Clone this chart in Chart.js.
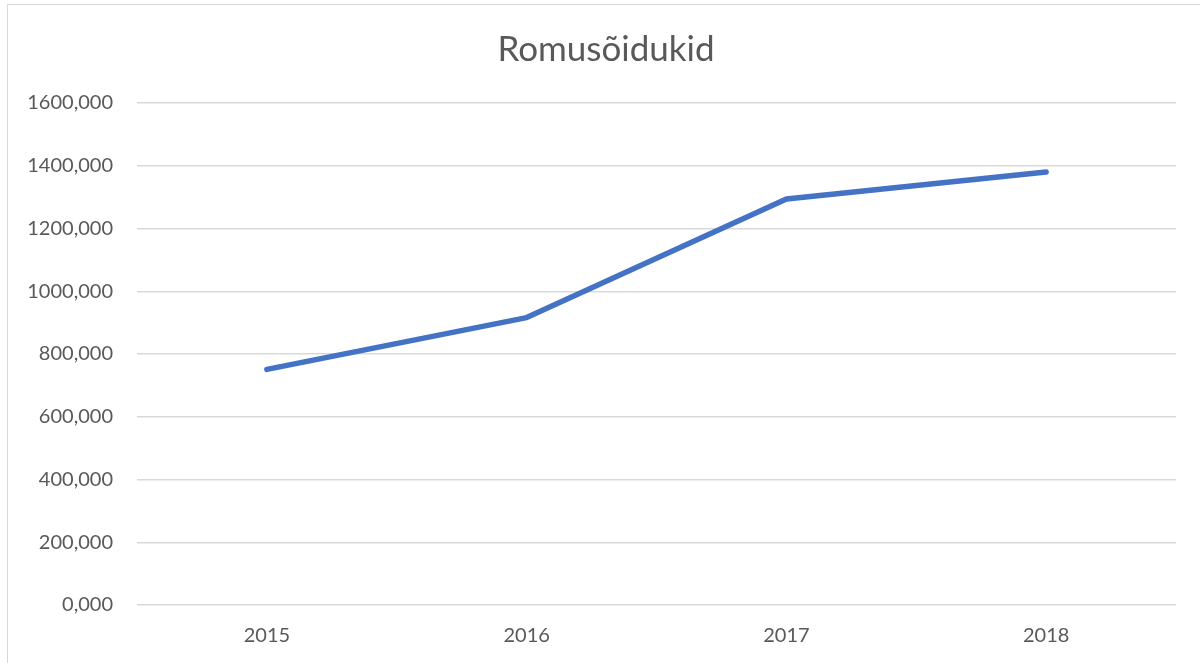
<!DOCTYPE html>
<html lang="et">
<head>
    <meta charset="UTF-8">
    <title>Romusõidukid</title>
    <script src="https://cdn.jsdelivr.net/npm/chart.js"></script>
    <style>
        html, body {
            margin: 0;
            padding: 0;
            background: #ffffff;
            overflow: hidden;
        }
        .frame {
            position: absolute;
            left: 7px;
            top: 4px;
            width: 1300px;
            height: 800px;
            border: 1.5px solid #d9d9d9;
        }
        .chart-box {
            position: absolute;
            left: 0;
            top: 0;
            width: 1200px;
            height: 663px;
        }
    </style>
</head>
<body>
    <div class="frame"></div>
    <div class="chart-box">
        <canvas id="lineChart"></canvas>
    </div>

    <script>
        const years = ['2015', '2016', '2017', '2018'];
        const vehicles = [751, 916, 1294, 1380];
        const yMin = 0;
        const yMax = 1600;
        const yStep = 200;

        const textColor = '#595959';
        const gridColor = '#d9d9d9';
        const fontFamily = "Lato, 'Open Sans', sans-serif";

        new Chart(document.getElementById('lineChart'), {
            type: 'line',
            data: {
                labels: years,
                datasets: [{
                    label: 'Romusõidukid',
                    data: vehicles,
                    borderColor: '#4472c4',
                    borderWidth: 5.5,
                    borderCapStyle: 'round',
                    borderJoinStyle: 'round',
                    pointRadius: 0,
                    tension: 0,
                    fill: false
                }]
            },
            options: {
                responsive: true,
                maintainAspectRatio: false,
                animation: false,
                layout: {
                    padding: { left: 12, right: 0, top: 0, bottom: 0 }
                },
                plugins: {
                    legend: { display: false },
                    tooltip: { enabled: false },
                    title: {
                        display: true,
                        text: 'Romusõidukid',
                        color: textColor,
                        font: { family: fontFamily, size: 35, weight: 'normal' },
                        padding: { top: 29, bottom: 32 }
                    }
                },
                scales: {
                    x: {
                        offset: true,
                        grid: { display: false, drawTicks: false },
                        border: { display: false },
                        ticks: {
                            color: textColor,
                            font: { family: fontFamily, size: 20 },
                            padding: 19
                        },
                        afterFit: s => { s.height = 58; }
                    },
                    y: {
                        min: yMin,
                        max: yMax,
                        grid: { color: gridColor, lineWidth: 1.5, drawTicks: false },
                        border: { display: false },
                        ticks: {
                            stepSize: yStep,
                            color: textColor,
                            font: { family: fontFamily, size: 20 },
                            padding: 24,
                            callback: v => v.toFixed(3).replace('.', ',')
                        },
                        afterFit: s => { s.width = 125; }
                    },
                    // empty right gutter, keeps the plot clear of the right edge
                    yRight: {
                        position: 'right',
                        min: yMin,
                        max: yMax,
                        grid: { display: false, drawTicks: false },
                        border: { display: false },
                        ticks: { display: false },
                        afterFit: s => { s.width = 24; }
                    }
                }
            }
        });
    </script>
</body>
</html>
